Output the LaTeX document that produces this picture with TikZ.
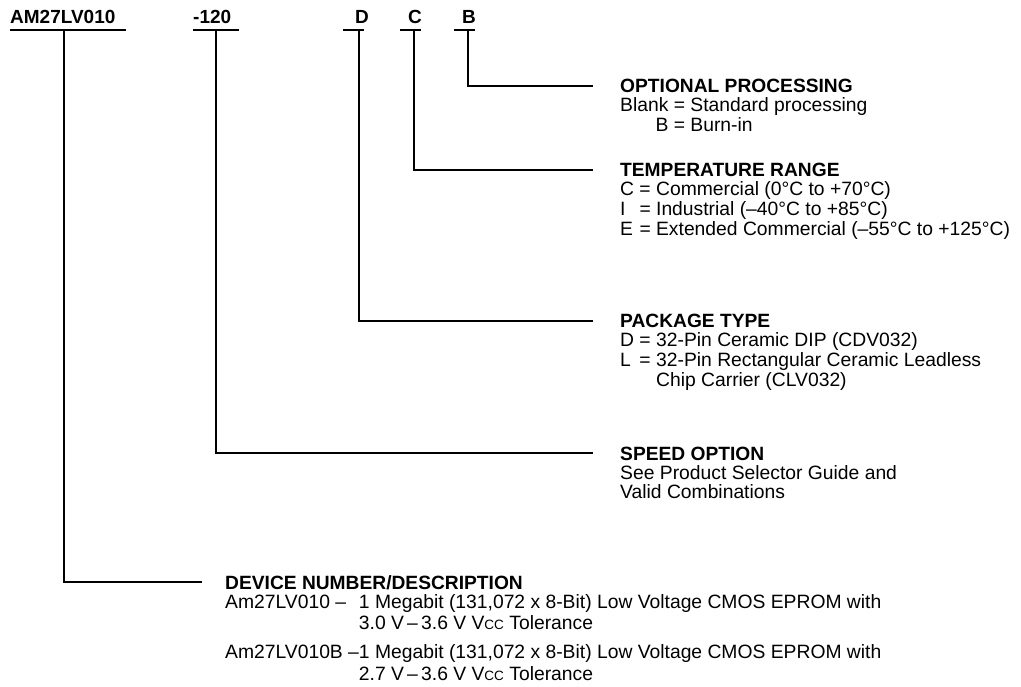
\documentclass[tikz,border=0pt]{standalone}
\usepackage{fontspec}
\setmainfont{Liberation Sans}
\newcommand\myvcc{V{\fontsize{13.5}{13.5}\selectfont CC}}
\begin{document}
\begin{tikzpicture}[x=1pt,y=-1pt,
  ln/.style={line width=2pt},
  ul/.style={line width=2.6pt},
  toplab/.style={font=\fontsize{19}{19}\selectfont\bfseries, anchor=base west, inner sep=0pt},
  head/.style={font=\fontsize{19.2}{19}\selectfont\bfseries, anchor=base west, inner sep=0pt, text depth=0pt},
  body/.style={font=\fontsize{19.3}{19}\selectfont, anchor=base west, inner sep=0pt},
  conn/.style={ln, shorten >=27pt}]
\useasboundingbox (0,0) rectangle (1021,687);
% top labels
\node[toplab] (am) at (10,24) {AM27LV010};
\node[toplab] (spd) at (193,24) {-120};
\node[toplab] (pk) at (355,24) {D};
\node[toplab] (tp) at (408,24) {C};
\node[toplab] (op) at (462,24) {B};
% underlines
\coordinate (amL) at (10,30);  \coordinate (amR) at (126,30);
\coordinate (spL) at (193,30); \coordinate (spR) at (239,30);
\coordinate (pkL) at (343,30); \coordinate (pkR) at (364,30);
\coordinate (tpL) at (400,30); \coordinate (tpR) at (421,30);
\coordinate (opL) at (454,30); \coordinate (opR) at (475,30);
\draw[ul] (amL) -- (amR);
\draw[ul] (spL) -- (spR);
\draw[ul] (pkL) -- (pkR);
\draw[ul] (tpL) -- (tpR);
\draw[ul] (opL) -- (opR);
% vertical starts
\coordinate (amV) at (64,30);
\coordinate (spV) at (216,30);
\coordinate (pkV) at (359,30);
\coordinate (tpV) at (414,30);
\coordinate (opV) at (468,30);
% headings and bodies
\node[head] (ophead) at (620,93) {OPTIONAL PROCESSING};
\node[body] (opbody) at (620,112) {\begin{tabular}[t]{@{}r@{\ }c@{\ }l@{}}Blank & = & Standard processing\\ B & = & Burn-in\end{tabular}};
\node[head] (tphead) at (620,177) {TEMPERATURE RANGE};
\node[body] (tpbody) at (620,196) {\begin{tabular}[t]{@{}l@{\ }c@{\ }l@{}}C & = & Commercial (0°C to +70°C)\\ I & = & Industrial (–40°C to +85°C)\\ E & = & Extended Commercial (–55°C to +125°C)\end{tabular}};
\node[head] (pkhead) at (620,328) {PACKAGE TYPE};
\node[body] (pkbody) at (620,347) {\begin{tabular}[t]{@{}l@{\ }c@{\ }l@{}}D & = & 32-Pin Ceramic DIP (CDV032)\\ L & = & 32-Pin Rectangular Ceramic Leadless\\ & & Chip Carrier (CLV032)\end{tabular}};
\node[head] (sphead) at (620,460) {SPEED OPTION};
\node[body] (spbody) at (620,479) {\begin{tabular}[t]{@{}l@{}}See Product Selector Guide and\\ Valid Combinations\end{tabular}};
\node[head] (dvhead) at (225,589) {DEVICE NUMBER/DESCRIPTION};
\node[body] (dvbody) at (225,608) {\begin{tabular}[t]{@{}l@{}l@{}}Am27LV010 –\ \ & 1 Megabit (131,072 x 8-Bit) Low Voltage CMOS EPROM with\\[2pt]
 & 3.0 V\,–\,3.6 V \myvcc{} Tolerance\\[9pt]
Am27LV010B – & 1 Megabit (131,072 x 8-Bit) Low Voltage CMOS EPROM with\\[2pt]
 & 2.7 V\,–\,3.6 V \myvcc{} Tolerance\end{tabular}};
% connectors
\draw[conn] (opV) |- (ophead.west);
\draw[conn] (tpV) |- (tphead.west);
\draw[conn] (pkV) |- (pkhead.west);
\draw[conn] (spV) |- (sphead.west);
\draw[ln, shorten >=23pt] (amV) |- (dvhead.west);
\end{tikzpicture}
\end{document}
